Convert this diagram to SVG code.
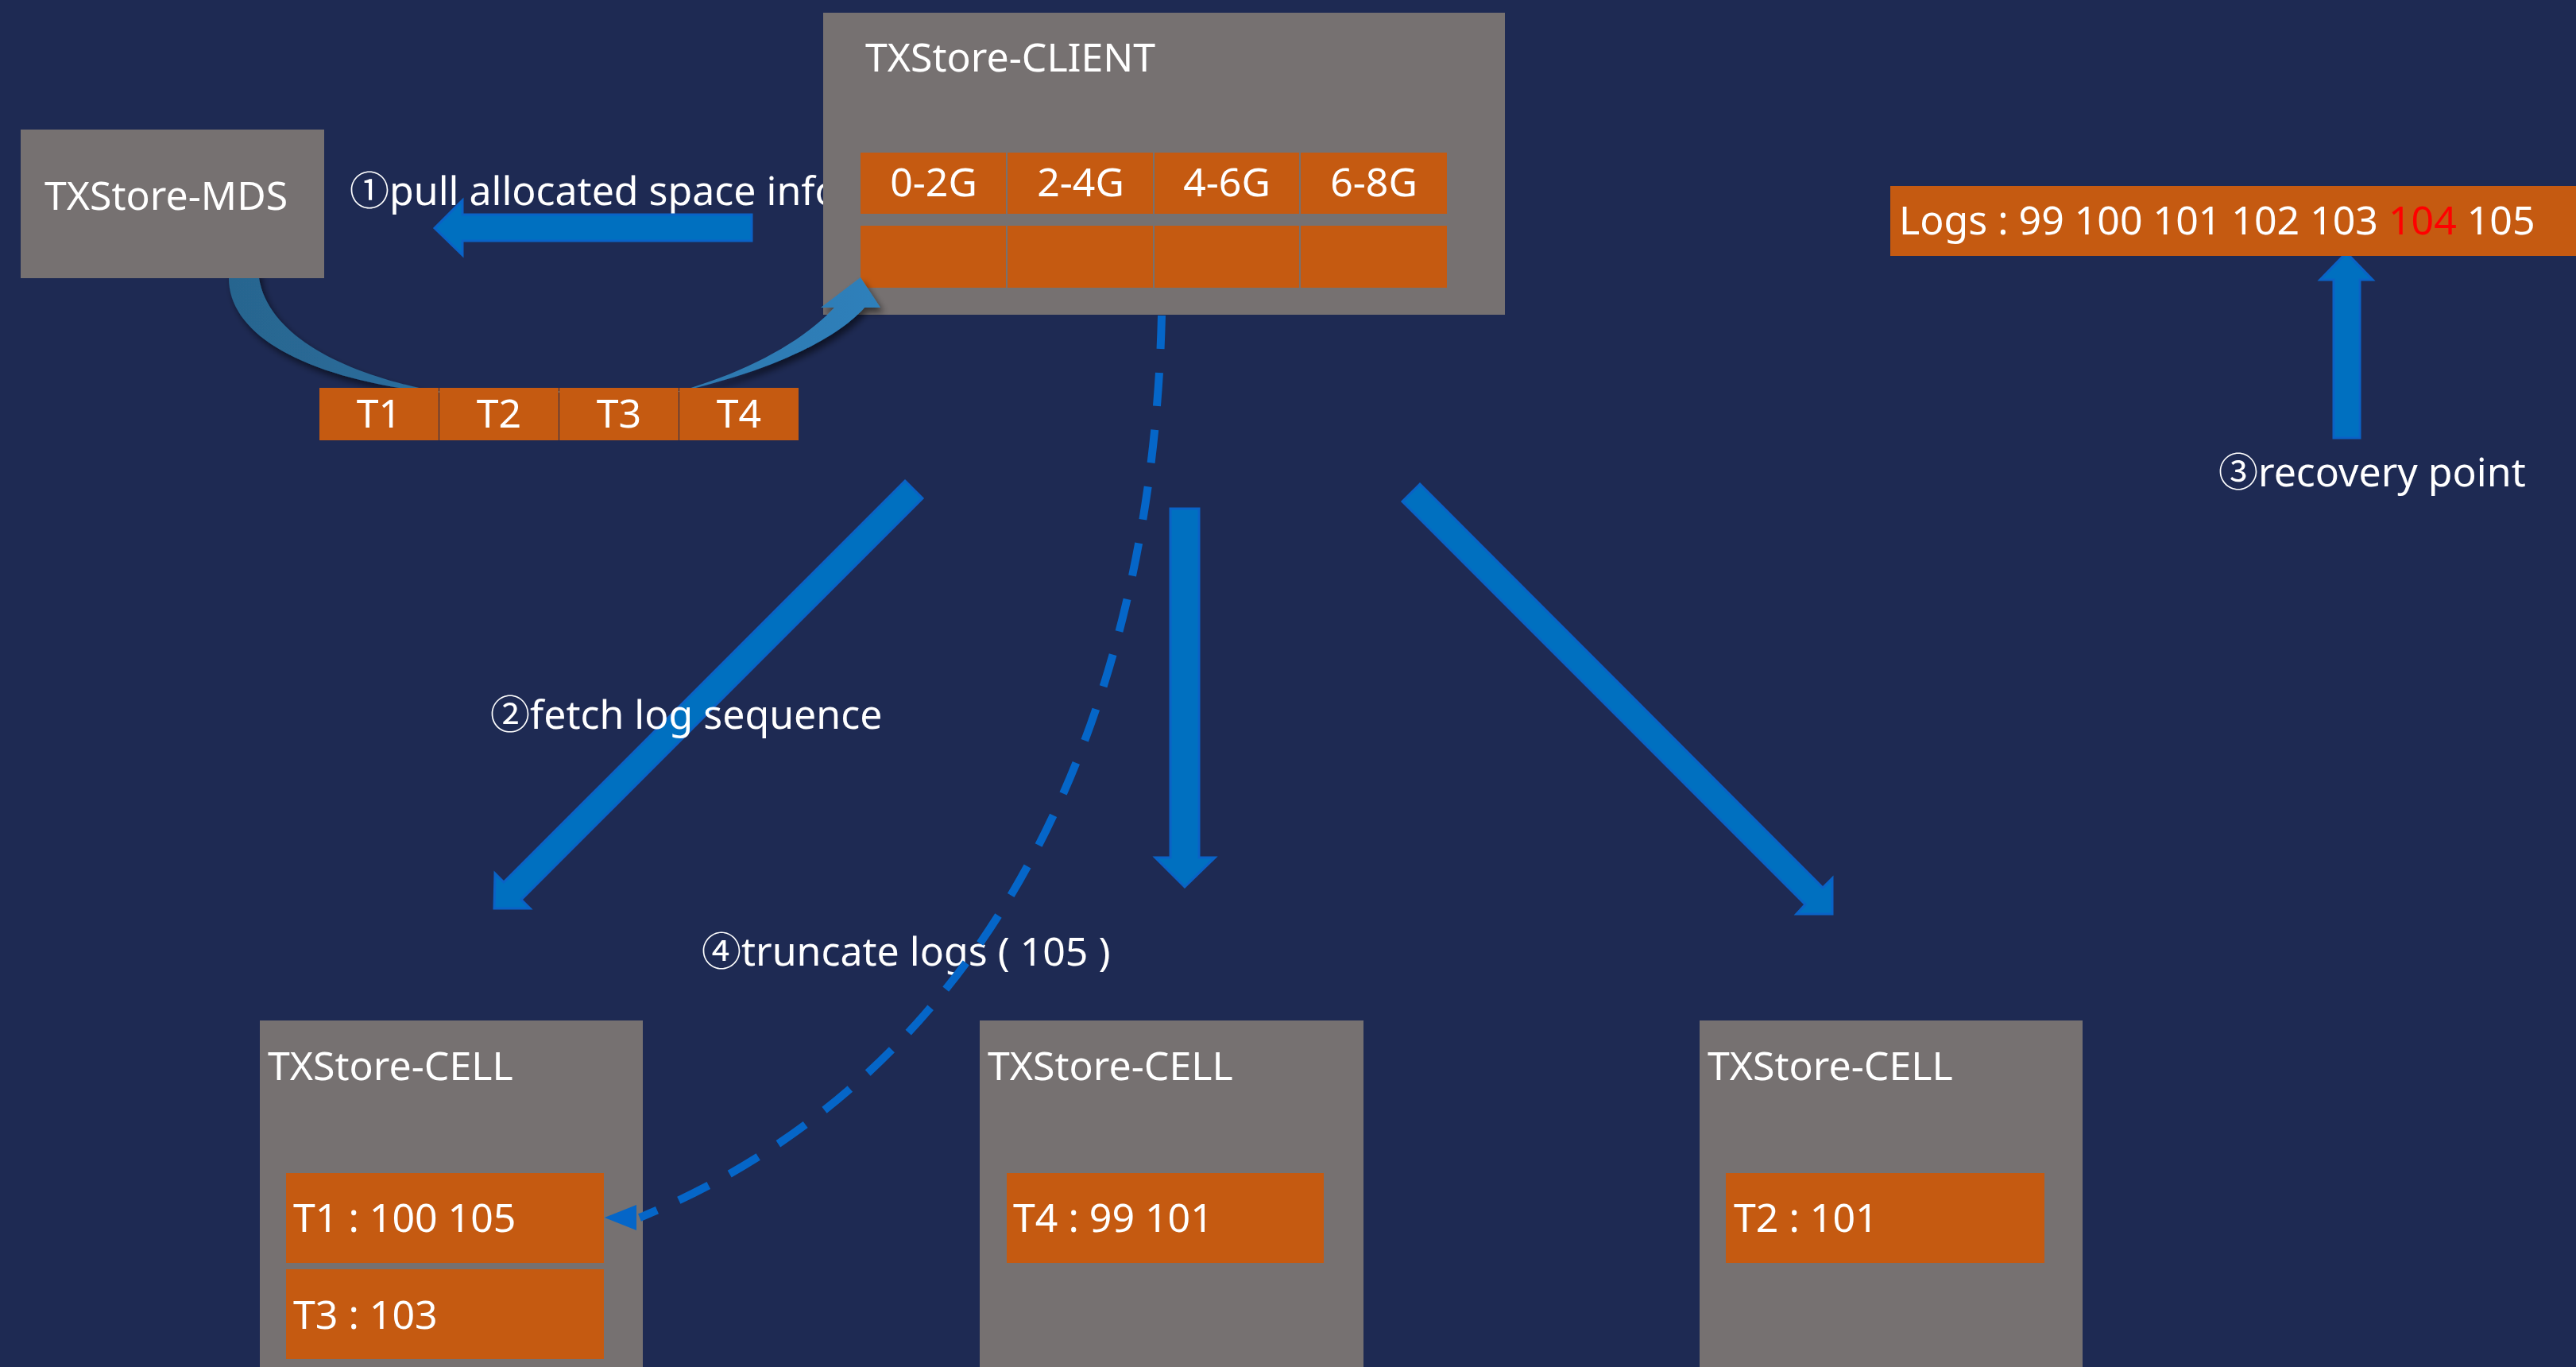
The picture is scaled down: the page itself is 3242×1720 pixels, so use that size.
<svg xmlns="http://www.w3.org/2000/svg" width="3242" height="1720" viewBox="0 0 3242 1720">
<style>
.t{font-family:"Noto Sans","Noto Sans CJK SC",sans-serif;font-size:50px;fill:#ffffff}
.c{text-anchor:middle}
.box{fill:#767171}
.or{fill:#c55a11}
.arr{fill:#0070c0;stroke:#0a62c6;stroke-width:3;stroke-linejoin:miter}
.dash{fill:none;stroke:#0566c8;stroke-width:10;stroke-dasharray:42 30}
</style>
<defs>
<linearGradient id="cg" x1="288" y1="0" x2="1108" y2="0" gradientUnits="userSpaceOnUse">
<stop offset="0" stop-color="#28658f"/>
<stop offset="1" stop-color="#2f80bb"/>
</linearGradient>
<filter id="sh" x="-10%" y="-20%" width="120%" height="150%">
<feDropShadow dx="4" dy="6" stdDeviation="4" flood-color="#000000" flood-opacity="0.55"/>
</filter>
</defs>
<rect x="0" y="0" width="3242" height="1720" fill="#1e2a53"/>

<g id="label-pull">
<text class="t" x="440" y="258">①pull allocated space info</text>
</g>

<g id="client">
<rect class="box" x="1036" y="16" width="858" height="380"/>
<text class="t" x="1089" y="90" font-size="48">TXStore-CLIENT</text>
<rect class="or" x="1083" y="192" width="183" height="77"/>
<rect class="or" x="1268" y="192" width="183" height="77"/>
<rect class="or" x="1453" y="192" width="182" height="77"/>
<rect class="or" x="1637" y="192" width="184" height="77"/>
<rect class="or" x="1083" y="284" width="183" height="78"/>
<rect class="or" x="1268" y="284" width="183" height="78"/>
<rect class="or" x="1453" y="284" width="182" height="78"/>
<rect class="or" x="1637" y="284" width="184" height="78"/>
<text class="t c" x="1175" y="247">0-2G</text>
<text class="t c" x="1360" y="247">2-4G</text>
<text class="t c" x="1544" y="247">4-6G</text>
<text class="t c" x="1729" y="247">6-8G</text>
</g>

<g id="connectors">
<path id="curve" filter="url(#sh)" fill="url(#cg)" d="M288,340 L288,350 C288,420 380,475 545,494 L850,494 C960,470 1050,430 1088,387 L1108,387 L1083,349 L1033,387 L1050,387 C1010,430 940,468 856,492 L547,492 C440,472 338,425 326,350 L326,340 Z"/>
<polygon class="arr" points="946,270 582,270 582,252 547,287 582,321 582,303 946,303"/>
<polygon class="arr" points="1139,605 1161,627 656,1132 667,1143 622,1143 623,1099 634,1110"/>
<polygon class="arr" points="1473,640 1509,640 1509,1079 1529,1079 1491,1116 1454,1079 1473,1079"/>
<polygon class="arr" points="1787,609 2294,1117 2306,1105 2306,1150 2261,1150 2272,1138 1765,631"/>
<polygon class="arr" points="2937,551 2937,352 2920,352 2953,318 2986,352 2970,352 2970,551"/>
</g>

<g id="tbar">
<rect class="or" x="402" y="488" width="150" height="66"/>
<rect class="or" x="553" y="488" width="150" height="66"/>
<rect class="or" x="704" y="488" width="150" height="66"/>
<rect class="or" x="855" y="488" width="150" height="66"/>
<text class="t c" x="477" y="538">T1</text>
<text class="t c" x="628" y="538">T2</text>
<text class="t c" x="779" y="538">T3</text>
<text class="t c" x="930" y="538">T4</text>
</g>

<g id="mds">
<rect class="box" x="26" y="163" width="382" height="187"/>
<text class="t" x="56" y="264">TXStore-MDS</text>
</g>

<g id="logs">
<rect class="or" x="2379" y="234" width="863" height="88"/>
<text class="t" x="2390" y="295">Logs : 99 100 101 102 103 <tspan fill="#ff0000">104</tspan> 105</text>
</g>

<g id="label-recovery">
<text class="t" x="2792" y="612" font-size="48">③recovery point</text>
</g>

<g id="label-fetch">
<text class="t" x="617" y="917" font-size="48">②fetch log sequence</text>
</g>

<g id="cell1">
<rect class="box" x="327" y="1284" width="482" height="436"/>
<text class="t" x="337" y="1359">TXStore-CELL</text>
<rect class="or" x="360" y="1476" width="400" height="113"/>
<rect class="or" x="360" y="1597" width="400" height="113"/>
<text class="t" x="369" y="1550">T1 : 100 105</text>
<text class="t" x="369" y="1672">T3 : 103</text>
</g>

<g id="cell2">
<rect class="box" x="1233" y="1284" width="483" height="436"/>
<text class="t" x="1243" y="1359">TXStore-CELL</text>
<rect class="or" x="1267" y="1476" width="399" height="113"/>
<text class="t" x="1275" y="1550">T4 : 99 101</text>
</g>

<g id="cell3">
<rect class="box" x="2139" y="1284" width="482" height="436"/>
<text class="t" x="2149" y="1359">TXStore-CELL</text>
<rect class="or" x="2172" y="1476" width="401" height="113"/>
<text class="t" x="2182" y="1550">T2 : 101</text>
</g>

<g id="label-truncate">
<text class="t" x="883" y="1215">④truncate logs ( 105 )</text>
</g>

<g id="connector-dashed">
<path class="dash" d="M1462,397 C1450,900 1250,1350 805,1532"/>
<polygon points="761,1532 801,1516 801,1548" fill="#0566c8"/>
</g>
</svg>
